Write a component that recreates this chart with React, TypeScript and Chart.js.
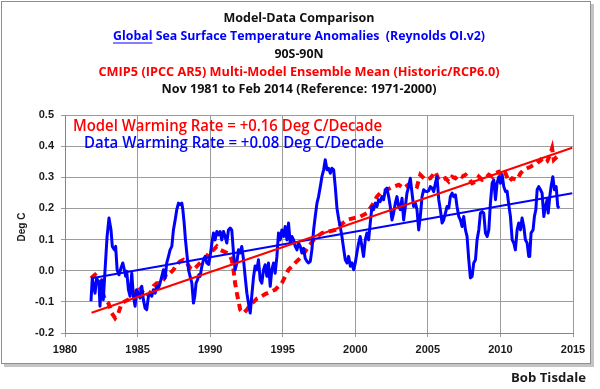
import { useEffect, useRef } from 'react';
import { Chart, registerables } from 'chart.js';

Chart.register(...registerables);

// ---- Data ----
const sstYears = [
  1981.79, 1981.88, 1982.07, 1982.18, 1982.34, 1982.41, 1982.53, 1982.64, 1982.76, 1982.90,
  1983.03, 1983.17, 1983.26, 1983.40, 1983.49, 1983.59, 1983.72, 1983.86, 1983.98, 1984.09,
  1984.18, 1984.25, 1984.37, 1984.48, 1984.60, 1984.71, 1984.83, 1984.94, 1985.06, 1985.17,
  1985.29, 1985.40, 1985.52, 1985.63, 1985.75, 1985.86, 1985.98, 1986.09, 1986.21, 1986.32,
  1986.44, 1986.55, 1986.67, 1986.78, 1986.90, 1987.01, 1987.13, 1987.24, 1987.36, 1987.47,
  1987.59, 1987.70, 1987.82, 1987.93, 1988.05, 1988.12, 1988.21, 1988.30, 1988.39, 1988.51,
  1988.62, 1988.74, 1988.85, 1988.94, 1989.03, 1989.13, 1989.22, 1989.31, 1989.43, 1989.54,
  1989.66, 1989.77, 1989.89, 1990.00, 1990.12, 1990.23, 1990.34, 1990.46, 1990.57, 1990.69,
  1990.80, 1990.92, 1991.03, 1991.15, 1991.26, 1991.38, 1991.49, 1991.61, 1991.72, 1991.84,
  1991.95, 1992.07, 1992.18, 1992.30, 1992.41, 1992.53, 1992.64, 1992.76, 1992.87, 1992.99,
  1993.10, 1993.22, 1993.33, 1993.45, 1993.56, 1993.68, 1993.79, 1993.91, 1994.02, 1994.14,
  1994.25, 1994.37, 1994.48, 1994.60, 1994.71, 1994.83, 1994.94, 1995.06, 1995.17, 1995.29,
  1995.40, 1995.52, 1995.63, 1995.75, 1995.86, 1995.98, 1996.09, 1996.21, 1996.32, 1996.44,
  1996.55, 1996.67, 1996.78, 1996.90, 1997.01, 1997.13, 1997.24, 1997.36, 1997.47, 1997.59,
  1997.70, 1997.82, 1997.93, 1998.05, 1998.16, 1998.28, 1998.39, 1998.51, 1998.62, 1998.74,
  1998.86, 1998.97, 1999.08, 1999.20, 1999.31, 1999.43, 1999.54, 1999.66, 1999.77, 1999.89,
  2000.00, 2000.11, 2000.23, 2000.34, 2000.46, 2000.57, 2000.69, 2000.80, 2000.92, 2001.03,
  2001.15, 2001.26, 2001.38, 2001.49, 2001.61, 2001.72, 2001.84, 2001.95, 2002.07, 2002.18,
  2002.30, 2002.41, 2002.53, 2002.64, 2002.76, 2002.87, 2002.99, 2003.10, 2003.22, 2003.33,
  2003.45, 2003.56, 2003.68, 2003.79, 2003.91, 2004.02, 2004.14, 2004.25, 2004.37, 2004.48,
  2004.60, 2004.71, 2004.83, 2004.94, 2005.06, 2005.17, 2005.29, 2005.40, 2005.52, 2005.63,
  2005.75, 2005.86, 2005.98, 2006.09, 2006.21, 2006.32, 2006.44, 2006.55, 2006.67, 2006.78,
  2006.90, 2007.01, 2007.13, 2007.24, 2007.36, 2007.47, 2007.59, 2007.70, 2007.82, 2007.93,
  2008.05, 2008.16, 2008.28, 2008.39, 2008.51, 2008.62, 2008.74, 2008.85, 2008.97, 2009.09,
  2009.20, 2009.31, 2009.43, 2009.54, 2009.66, 2009.77, 2009.89, 2010.00, 2010.12, 2010.23,
  2010.35, 2010.46, 2010.58, 2010.69, 2010.81, 2010.92, 2011.03, 2011.15, 2011.26, 2011.38,
  2011.49, 2011.61, 2011.72, 2011.84, 2011.95, 2012.02, 2012.11, 2012.25, 2012.34, 2012.44,
  2012.53, 2012.64, 2012.76, 2012.87, 2012.99, 2013.10, 2013.22, 2013.29, 2013.40, 2013.49,
  2013.61, 2013.72, 2013.84, 2013.95, 2014.05,
];
const sstAnoms = [
  -0.098, -0.024, -0.072, -0.024, -0.040, -0.114, -0.029, -0.093, 0.003, 0.110,
  0.169, 0.131, 0.078, 0.067, 0.078, 0.003, -0.013, 0.009, 0.025, 0.003,
  -0.018, -0.002, -0.061, -0.082, -0.008, -0.082, -0.114, -0.061, -0.072, -0.088,
  -0.050, -0.093, -0.120, -0.125, -0.082, -0.072, -0.082, -0.061, -0.072, -0.050,
  -0.056, -0.040, -0.018, 0.003, -0.024, 0.025, 0.046, 0.067, 0.078, 0.131,
  0.163, 0.196, 0.217, 0.212, 0.217, 0.196, 0.153, 0.099, 0.057, 0.003,
  -0.018, -0.040, -0.104, -0.082, -0.040, -0.029, -0.013, -0.018, 0.014, 0.035,
  0.046, 0.025, 0.020, 0.046, 0.089, 0.121, 0.099, 0.126, 0.115, 0.126,
  0.099, 0.126, 0.110, 0.089, 0.131, 0.137, 0.131, 0.057, 0.003, 0.025,
  0.067, 0.057, 0.078, 0.035, -0.018, -0.072, -0.104, -0.136, -0.080, -0.020,
  0.015, 0.003, 0.035, -0.029, -0.040, 0.003, 0.019, -0.018, 0.025, -0.050,
  0.003, 0.025, -0.008, 0.046, 0.121, 0.099, 0.131, 0.110, 0.142, 0.099,
  0.153, 0.089, 0.110, 0.099, 0.078, 0.067, 0.089, 0.078, 0.057, 0.072,
  0.040, 0.030, 0.025, 0.030, 0.067, 0.131, 0.174, 0.217, 0.238, 0.270,
  0.302, 0.324, 0.356, 0.324, 0.329, 0.313, 0.329, 0.324, 0.270, 0.200,
  0.165, 0.140, 0.110, 0.070, 0.035, 0.025, 0.046, 0.014, 0.025, 0.003,
  0.025, 0.057, 0.089, 0.110, 0.078, 0.046, 0.099, 0.121, 0.099, 0.153,
  0.206, 0.196, 0.217, 0.206, 0.228, 0.222, 0.238, 0.228, 0.260, 0.265,
  0.238, 0.206, 0.163, 0.185, 0.217, 0.238, 0.206, 0.196, 0.233, 0.163,
  0.206, 0.249, 0.270, 0.297, 0.249, 0.206, 0.217, 0.196, 0.131, 0.174,
  0.238, 0.260, 0.255, 0.254, 0.257, 0.270, 0.265, 0.254, 0.281, 0.302,
  0.228, 0.196, 0.153, 0.163, 0.185, 0.206, 0.201, 0.238, 0.249, 0.238,
  0.244, 0.206, 0.174, 0.163, 0.142, 0.174, 0.131, 0.110, 0.035, -0.023,
  -0.018, 0.025, 0.035, 0.099, 0.131, 0.185, 0.190, 0.185, 0.121, 0.110,
  0.131, 0.217, 0.281, 0.292, 0.228, 0.281, 0.302, 0.281, 0.308, 0.270,
  0.254, 0.255, 0.210, 0.174, 0.099, 0.089, 0.067, 0.131, 0.153, 0.131,
  0.169, 0.142, 0.099, 0.089, 0.046, 0.046, 0.121, 0.131, 0.174, 0.196,
  0.260, 0.270, 0.260, 0.249, 0.174, 0.206, 0.228, 0.185, 0.238, 0.270,
  0.302, 0.260, 0.270, 0.206, 0.201,
];

const modelYears = [
  1981.79, 1982.07, 1982.30, 1982.53, 1982.76, 1982.99, 1983.22, 1983.45, 1983.68, 1983.91,
  1984.14, 1984.37, 1984.60, 1984.83, 1985.06, 1985.17, 1985.40, 1985.63, 1985.86, 1986.09,
  1986.32, 1986.55, 1986.78, 1987.01, 1987.24, 1987.47, 1987.70, 1987.93, 1988.16, 1988.39,
  1988.62, 1988.85, 1989.08, 1989.31, 1989.54, 1989.77, 1990.00, 1990.23, 1990.46, 1990.69,
  1990.92, 1991.15, 1991.38, 1991.49, 1991.61, 1991.72, 1991.84, 1992.07, 1992.30, 1992.53,
  1992.76, 1992.99, 1993.22, 1993.45, 1993.79, 1994.14, 1994.48, 1994.94, 1995.40, 1995.86,
  1996.32, 1996.78, 1997.24, 1997.70, 1998.16, 1998.62, 1998.97, 1999.43, 1999.89, 2000.34,
  2000.80, 2001.26, 2001.49, 2001.72, 2002.18, 2002.64, 2002.99, 2003.33, 2003.79, 2004.25,
  2004.48, 2004.83, 2005.17, 2005.52, 2005.75, 2005.98, 2006.21, 2006.44, 2006.67, 2006.90,
  2007.13, 2007.36, 2007.59, 2007.82, 2008.05, 2008.28, 2008.51, 2008.74, 2008.97, 2009.20,
  2009.43, 2009.66, 2009.89, 2010.12, 2010.35, 2010.58, 2010.81, 2011.15, 2011.38, 2011.61,
  2011.84, 2012.07, 2012.30, 2012.53, 2012.76, 2012.99, 2013.22, 2013.45, 2013.56, 2013.68,
  2013.91, 2014.03,
];
const modelAnoms = [
  -0.024, -0.013, -0.024, -0.061, -0.093, -0.104, -0.136, -0.152, -0.136, -0.104,
  -0.098, -0.093, -0.082, -0.072, -0.050, -0.056, -0.072, -0.082, -0.072, -0.050,
  -0.040, -0.040, -0.029, -0.008, -0.008, 0.003, 0.020, 0.030, 0.035, 0.025,
  0.009, 0.003, 0.014, 0.025, 0.035, 0.046, 0.062, 0.067, 0.078, 0.067,
  0.062, 0.057, 0.046, 0.035, 0.003, -0.040, -0.072, -0.125, -0.136, -0.125,
  -0.110, -0.100, -0.090, -0.085, -0.075, -0.068, -0.061, -0.040, 0.003, 0.025,
  0.046, 0.078, 0.105, 0.121, 0.126, 0.131, 0.147, 0.163, 0.169, 0.174,
  0.185, 0.217, 0.238, 0.249, 0.260, 0.270, 0.276, 0.265, 0.281, 0.270,
  0.308, 0.292, 0.297, 0.318, 0.292, 0.292, 0.297, 0.286, 0.302, 0.297,
  0.308, 0.302, 0.308, 0.297, 0.281, 0.286, 0.302, 0.292, 0.297, 0.308,
  0.302, 0.313, 0.318, 0.302, 0.313, 0.286, 0.297, 0.292, 0.313, 0.324,
  0.329, 0.334, 0.340, 0.345, 0.356, 0.345, 0.351, 0.377, 0.393, 0.356,
  0.367, 0.377,
];

const trendYears = [1981.83, 2014.95];
const modelTrend = [-0.135, 0.395];
const dataTrend = [-0.024, 0.249];

const titleLines = [
  'Model-Data Comparison',
  'Global Sea Surface Temperature Anomalies  (Reynolds OI.v2)',
  '90S-90N',
  'CMIP5 (IPCC AR5) Multi-Model Ensemble Mean (Historic/RCP6.0)',
  'Nov 1981 to Feb 2014 (Reference: 1971-2000)',
];
const underlinedWord = 'Global';
const modelRateText = 'Model Warming Rate = +0.16 Deg C/Decade';
const dataRateText = 'Data Warming Rate = +0.08 Deg C/Decade';
const yAxisTitle = 'Deg C';
const author = 'Bob Tisdale';

const xMin = 1980;
const xMax = 2015;
const xStep = 5;
const yMin = -0.2;
const yMax = 0.5;
const yStep = 0.1;

// ---- styles / layout ----
const BLUE = '#0000ff';
const RED = '#ff0000';
const GRID = '#9c9c9c';
const TITLE_FONT = 'bold 13px "Open Sans", "Noto Sans", sans-serif';
const titleY = [18, 36, 54, 72, 89];
const titleW = [151, 372, 49, 401, 275];
const titleColors = ['#111', BLUE, '#111', RED, '#111'];
const titleCX = 299;

function toPoints(xs: number[], ys: number[]) {
  return xs.map((x, i) => ({ x, y: ys[i] }));
}

function drawFit(ctx: CanvasRenderingContext2D, text: string, cx: number, cy: number, width: number, font: string, color: string) {
  ctx.save();
  ctx.font = font;
  ctx.fillStyle = color;
  ctx.textBaseline = 'middle';
  ctx.textAlign = 'left';
  const w = ctx.measureText(text).width;
  const s = width / w;
  ctx.translate(cx - width / 2, cy);
  ctx.scale(s, 1);
  ctx.fillText(text, 0, 0);
  ctx.restore();
  return s;
}

const decorPlugin = {
  id: 'decor',
  beforeDraw(chart: any) {
    const ctx: CanvasRenderingContext2D = chart.ctx;
    ctx.save();
    ctx.fillStyle = '#ffffff';
    ctx.fillRect(0, 0, chart.width, chart.height);
    // shadow
    ctx.fillStyle = '#c4c4c4';
    ctx.fillRect(4, 364, 589, 3);
    ctx.fillRect(591, 4, 3, 363);
    // frame
    ctx.strokeStyle = '#8e8e8e';
    ctx.lineWidth = 1;
    ctx.strokeRect(1.5, 1.5, 589, 362);
    ctx.restore();
  },
  afterDraw(chart: any) {
    const ctx: CanvasRenderingContext2D = chart.ctx;
    titleLines.forEach((t, i) => {
      const s = drawFit(ctx, t, titleCX, titleY[i], titleW[i], TITLE_FONT, titleColors[i]);
      if (t.startsWith(underlinedWord)) {
        ctx.save();
        ctx.font = TITLE_FONT;
        const gw = ctx.measureText(underlinedWord).width * s;
        const x0 = titleCX - titleW[i] / 2;
        ctx.strokeStyle = titleColors[i];
        ctx.lineWidth = 1.2;
        ctx.beginPath();
        ctx.moveTo(x0, titleY[i] + 7);
        ctx.lineTo(x0 + gw, titleY[i] + 7);
        ctx.stroke();
        ctx.restore();
      }
    });
    const annFont = '600 16px "Open Sans", "Noto Sans", sans-serif';
    drawFit(ctx, modelRateText, 227.5, 126, 309, annFont, RED);
    drawFit(ctx, dataRateText, 234, 143, 300, annFont, BLUE);
    drawFit(ctx, author, 548.5, 379, 75, 'bold 12px "Open Sans", sans-serif', '#1a1a1a');
    ctx.save();
    ctx.translate(22, 227);
    ctx.rotate(-Math.PI / 2);
    ctx.font = 'bold 10px "Liberation Sans", sans-serif';
    ctx.fillStyle = '#1a1a1a';
    ctx.textAlign = 'center';
    ctx.textBaseline = 'middle';
    ctx.fillText(yAxisTitle, 0, 0);
    ctx.restore();
  },
};

export default function App() {
  const ref = useRef<HTMLCanvasElement | null>(null);
  useEffect(() => {
    document.body.style.margin = '0';
    const canvas = ref.current;
    if (!canvas) return;
    const tickFont = { family: '"Liberation Sans", Arial, sans-serif', size: 11, weight: 'bold' as const };
    const chart = new Chart(canvas, {
      type: 'line',
      data: {
        datasets: [
          {
            label: 'Model trend',
            data: toPoints(trendYears, modelTrend),
            borderColor: RED,
            borderWidth: 2,
            pointRadius: 0,
            order: 0,
          },
          {
            label: 'Data trend',
            data: toPoints(trendYears, dataTrend),
            borderColor: BLUE,
            borderWidth: 2,
            pointRadius: 0,
            order: 1,
          },
          {
            label: 'Reynolds OI.v2',
            data: toPoints(sstYears, sstAnoms),
            borderColor: BLUE,
            borderWidth: 3,
            pointRadius: 0,
            borderJoinStyle: 'round',
            order: 2,
          },
          {
            label: 'CMIP5 Mean',
            data: toPoints(modelYears, modelAnoms),
            borderColor: RED,
            borderWidth: 4,
            borderDash: [7, 5],
            pointRadius: 0,
            order: 3,
          },
        ],
      },
      options: {
        responsive: false,
        animation: false,
        devicePixelRatio: 1,
        layout: { padding: { left: 0, right: 27, top: 115, bottom: 31 } },
        plugins: { legend: { display: false }, tooltip: { enabled: false }, title: { display: false } },
        scales: {
          x: {
            type: 'linear',
            min: xMin,
            max: xMax,
            afterFit: (s: any) => { s.height = 25; },
            ticks: {
              stepSize: xStep,
              autoSkip: false,
              maxRotation: 0,
              padding: 6,
              color: '#1a1a1a',
              font: tickFont,
              callback: (v: any) => String(v),
            },
            grid: { color: GRID, lineWidth: 1, tickLength: 4, drawTicks: true },
            border: { display: true, color: '#868686', width: 1 },
          },
          y: {
            min: yMin,
            max: yMax,
            afterFit: (s: any) => { s.width = 65; },
            ticks: {
              stepSize: yStep,
              padding: 7,
              color: '#1a1a1a',
              font: tickFont,
              callback: (v: any) => (Math.round(Number(v) * 10) / 10).toFixed(1),
            },
            grid: { color: GRID, lineWidth: 1, tickLength: 4, drawTicks: true },
            border: { display: true, color: '#868686', width: 1 },
          },
        },
      },
      plugins: [decorPlugin],
    });
    return () => chart.destroy();
  }, []);
  return (
    <div style={{ position: 'fixed', left: 0, top: 0, width: 600, height: 389 }}>
      <canvas ref={ref} width={600} height={389} style={{ width: 600, height: 389, display: 'block' }} />
    </div>
  );
}
